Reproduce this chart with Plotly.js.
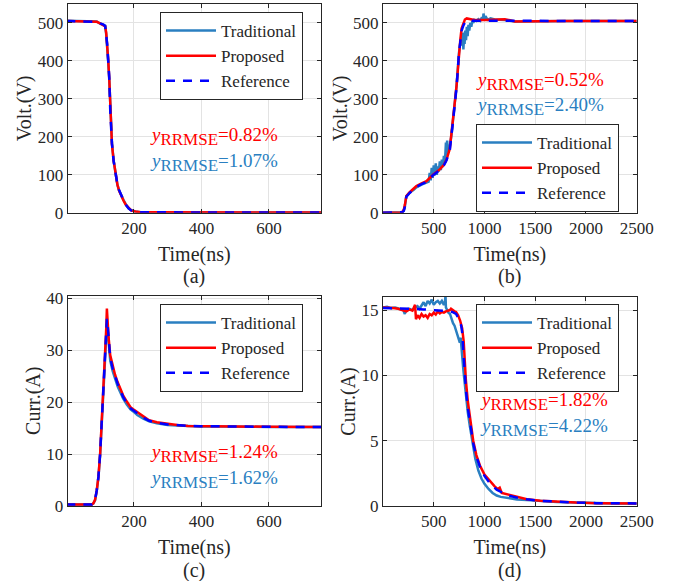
<!DOCTYPE html>
<html>
<head>
<meta charset="utf-8">
<script src="https://cdn.plot.ly/plotly-3.0.1.min.js"></script>
<style>html,body{margin:0;padding:0;background:#fff;}#chart{width:678px;height:581px;}</style>
</head>
<body>
<div id="chart"></div>
<script>
// ---------- Panel (a): voltage, 0-754 ns ----------
var aTime = [0, 40, 80, 90, 100, 110, 115, 118, 121, 124, 127, 130, 133, 135, 140, 146, 151, 156, 162, 169, 176, 184, 192, 204, 220, 260, 350, 450, 550, 650, 754];
var aRef  = [505, 505, 505, 503, 499, 496, 492, 472, 444, 400, 357, 269, 210, 182, 136, 96, 76, 60, 45, 33, 21, 11.5, 6, 2.6, 1.2, 0.8, 0.6, 0.5, 0.5, 0.5, 0.5];
var aProp = [505, 505, 505, 503, 499, 495, 491, 474, 446, 402, 355, 271, 208, 180, 137, 97, 75, 58, 44, 32, 21, 12, 6, 3, 1.5, 1, 0.7, 0.6, 0.5, 0.5, 0.5];
var aTrad = [506, 506, 505, 504, 498, 496, 493, 470, 442, 398, 352, 266, 212, 185, 138, 95, 74, 59, 46, 34, 22, 12, 6.5, 3, 1.4, 0.9, 0.7, 0.6, 0.6, 0.5, 0.5];

// ---------- Panel (b): voltage, 0-2500 ns ----------
var bTime = [0, 100, 170, 190, 205, 215, 230, 263, 300, 329, 380, 428, 493, 559, 600, 626, 658, 675, 691, 708, 725, 748, 762, 774, 790, 807, 825, 850, 900, 1000, 1100, 1200, 1300, 1500, 1800, 2100, 2500];
var bRef  = [0, 0, 0, 1, 5, 15, 42, 52, 60, 68, 75, 81, 99, 112, 125, 138, 164, 200, 243, 287, 330, 418, 452, 479, 492, 501, 506, 506, 505, 506, 506, 506, 505, 505, 505, 505, 505];
var bProp = [0, 0, 0, 2, 8, 20, 44, 54, 62, 70, 77, 83, 100, 114, 126, 140, 168, 205, 248, 292, 335, 420, 456, 485, 500, 509, 512, 510, 508, 508, 509, 510, 504, 505, 505, 505, 505];
var bTradTime = [0, 100, 170, 190, 205, 215, 230, 263, 300, 329, 380, 428, 450, 460, 470, 480, 490, 500, 510, 520, 530, 540, 550, 560, 570, 580, 590, 600, 610, 620, 626, 632, 640, 650, 658, 675, 691, 708, 725, 748, 762, 774, 780, 786, 792, 798, 804, 810, 818, 826, 834, 842, 850, 860, 870, 880, 890, 900, 920, 940, 960, 975, 985, 990, 1000, 1010, 1030, 1060, 1100, 1200, 1300, 1500, 1800, 2100, 2500];
var bTrad = [0, 0, 0, 1, 6, 16, 43, 53, 60, 67, 74, 80, 82, 105, 85, 118, 92, 125, 98, 130, 100, 122, 108, 135, 112, 140, 120, 150, 130, 185, 150, 190, 160, 170, 175, 205, 245, 290, 335, 420, 455, 470, 440, 475, 430, 460, 445, 480, 455, 490, 465, 495, 480, 500, 490, 505, 500, 508, 505, 510, 506, 515, 508, 525, 510, 518, 508, 512, 509, 508, 504, 505, 505, 505, 505];

// ---------- Panel (c): current, 0-754 ns ----------
var cTime = [0, 40, 75, 80, 85, 90, 95, 100, 105, 110, 115, 118, 120, 122, 125, 130, 137, 144, 152, 159, 168, 179, 190, 198, 210, 228, 245, 268, 300, 328, 360, 397, 450, 500, 600, 700, 754];
var cRef  = [0.3, 0.3, 0.3, 0.5, 1.2, 3, 5.6, 10, 15.9, 22, 29, 33, 36, 35, 32, 28.5, 26.5, 24.9, 23.5, 22.4, 21, 19.8, 18.8, 18.4, 17.8, 17.0, 16.4, 16.0, 15.7, 15.5, 15.4, 15.35, 15.3, 15.3, 15.25, 15.2, 15.2];
var cProp = [0.3, 0.3, 0.3, 0.5, 1.2, 3, 5.6, 10, 16.2, 22.5, 29.5, 34, 38, 35.5, 32.5, 29, 27, 25.3, 23.8, 22.7, 21.3, 20.1, 19, 18.6, 18.1, 17.2, 16.5, 16.1, 15.8, 15.6, 15.4, 15.4, 15.3, 15.3, 15.25, 15.2, 15.2];
var cTrad = [0.3, 0.3, 0.3, 0.5, 1.1, 2.9, 5.5, 9.8, 15.6, 21.6, 28.5, 32.5, 35, 34, 31.5, 28, 26, 24.5, 23, 22, 20.7, 19.5, 18.6, 18.2, 17.5, 16.8, 16.3, 15.9, 15.6, 15.5, 15.4, 15.3, 15.3, 15.25, 15.2, 15.2, 15.2];

// ---------- Panel (d): current, 0-2500 ns ----------
var dTime = [0, 100, 200, 300, 400, 500, 589, 640, 688, 720, 738, 755, 771, 780, 787, 796, 804, 817, 836, 856, 872, 889, 920, 955, 1000, 1054, 1120, 1220, 1320, 1418, 1550, 1715, 1900, 2100, 2300, 2500];
var dRef  = [15.15, 15.15, 15.1, 15.1, 15.05, 15.0, 14.97, 14.92, 14.84, 14.7, 14.45, 14.15, 13.8, 13.3, 12.3, 11.2, 10, 8.9, 7.5, 6.35, 5.5, 4.8, 3.8, 3.0, 2.3, 1.74, 1.25, 0.84, 0.64, 0.51, 0.4, 0.31, 0.26, 0.22, 0.2, 0.2];
var dPropTime = [0, 50, 100, 150, 200, 230, 260, 290, 316, 325, 340, 360, 380, 400, 420, 440, 460, 480, 500, 520, 540, 560, 580, 600, 620, 640, 660, 670, 690, 705, 720, 740, 760, 780, 795, 805, 817, 836, 856, 872, 889, 920, 955, 1000, 1054, 1100, 1130, 1150, 1170, 1220, 1320, 1418, 1550, 1715, 1900, 2100, 2300, 2500];
var dProp = [15.2, 15.2, 15.15, 15.1, 15.0, 14.9, 15.05, 14.95, 15.4, 14.3, 14.6, 14.4, 14.7, 14.5, 14.6, 14.4, 14.7, 14.6, 14.8, 14.65, 14.9, 14.75, 14.85, 14.8, 14.9, 14.95, 15.0, 15.1, 14.95, 14.9, 14.85, 14.6, 14.2, 13.6, 12.6, 11.2, 9.6, 8.0, 6.7, 5.8, 5.0, 3.9, 3.1, 2.4, 1.9, 1.5, 1.3, 1.4, 1.0, 0.9, 0.66, 0.52, 0.41, 0.32, 0.26, 0.22, 0.2, 0.2];
var dTradTime = [0, 40, 80, 120, 160, 200, 215, 230, 260, 290, 320, 340, 360, 380, 400, 420, 440, 460, 480, 500, 520, 540, 560, 580, 600, 610, 616, 620, 630, 645, 660, 675, 690, 705, 720, 735, 750, 757, 765, 772, 780, 790, 800, 815, 835, 856, 872, 889, 910, 940, 970, 1000, 1040, 1080, 1120, 1160, 1220, 1320, 1418, 1550, 1715, 1900, 2100, 2300, 2500];
var dTrad = [15.2, 15.25, 15.15, 15.2, 15.1, 15.0, 14.7, 15.05, 15.1, 15.0, 15.2, 15.3, 15.1, 15.4, 15.6, 15.3, 15.7, 15.5, 15.8, 15.4, 15.6, 15.7, 15.5, 15.7, 15.4, 15.6, 16.1, 15.2, 15.0, 14.8, 14.7, 14.3, 14.0, 13.8, 13.4, 13.1, 12.8, 12.5, 12.9, 12.0, 11.5, 10.6, 9.8, 8.6, 7.2, 6.1, 5.3, 4.5, 3.6, 2.7, 2.1, 1.7, 1.3, 1.0, 0.8, 0.7, 0.62, 0.5, 0.45, 0.38, 0.31, 0.26, 0.22, 0.2, 0.2];

// ---------- Labels ----------
var seriesNames = ['Traditional', 'Proposed', 'Reference'];
var panelLetters = ['(a)', '(b)', '(c)', '(d)'];
var yTitles = ['Volt.(V)', 'Volt.(V)', 'Curr.(A)', 'Curr.(A)'];
var xTitle = 'Time(ns)';
var rrmseProp = ['0.82%', '0.52%', '1.24%', '1.82%'];
var rrmseTrad = ['1.07%', '2.40%', '1.62%', '4.22%'];
var xTicksShort = [200, 400, 600];
var xTicksLong = [500, 1000, 1500, 2000, 2500];
var yTicksVolt = [0, 100, 200, 300, 400, 500];
var yTicksA = [0, 10, 20, 30, 40];
var yTicksD = [0, 5, 10, 15];

// ---------- Style ----------
var W = 678, H = 581;
var cTradCol = '#2a7fc1', cPropCol = '#ff0000', cRefCol = '#0000ff';
var FONT = 'Liberation Serif';
var AXC = '#262626';
function px(x) { return x / W; }
function py(y) { return 1 - y / H; }

// panel pixel boxes [left, right, top, bottom]
var boxes = [
  [67.7, 321, 4, 212.7],
  [383, 636.7, 4, 212.7],
  [67.7, 321, 295.5, 506],
  [383, 636.7, 297, 506]
];

var panels = [
  {tt: aTime, tr: aTrad, pt: aTime, pr: aProp, rt: aTime, rr: aRef},
  {tt: bTradTime, tr: bTrad, pt: bTime, pr: bProp, rt: bTime, rr: bRef},
  {tt: cTime, tr: cTrad, pt: cTime, pr: cProp, rt: cTime, rr: cRef},
  {tt: dTradTime, tr: dTrad, pt: dPropTime, pr: dProp, rt: dTime, rr: dRef}
];

var data = [];
panels.forEach(function (p, i) {
  var sfx = i === 0 ? '' : String(i + 1);
  var lg = i === 0 ? 'legend' : 'legend' + (i + 1);
  data.push({x: p.tt, y: p.tr, type: 'scatter', mode: 'lines', name: seriesNames[0],
    xaxis: 'x' + sfx, yaxis: 'y' + sfx, legend: lg,
    line: {color: cTradCol, width: 2.5}});
  data.push({x: p.pt, y: p.pr, type: 'scatter', mode: 'lines', name: seriesNames[1],
    xaxis: 'x' + sfx, yaxis: 'y' + sfx, legend: lg,
    line: {color: cPropCol, width: 2.5}});
  data.push({x: p.rt, y: p.rr, type: 'scatter', mode: 'lines', name: seriesNames[2],
    xaxis: 'x' + sfx, yaxis: 'y' + sfx, legend: lg,
    line: {color: cRefCol, width: 2.5, dash: '9px,8px'}});
});

var xRanges = [[4, 754], [0, 2500], [4, 754], [0, 2500]];
var yRanges = [[0, 550], [0, 550], [0, 40.5], [0, 16]];
var xTickSets = [xTicksShort, xTicksLong, xTicksShort, xTicksLong];
var yTickSets = [yTicksVolt, yTicksVolt, yTicksA, yTicksD];

var layout = {
  width: W, height: H,
  margin: {l: 0, r: 0, t: 0, b: 0},
  paper_bgcolor: '#ffffff', plot_bgcolor: '#ffffff',
  font: {family: FONT, color: AXC, size: 17},
  showlegend: true,
  annotations: []
};

function axisCommon() {
  return {
    showline: true, linecolor: AXC, linewidth: 1, mirror: 'ticks',
    ticks: 'inside', ticklen: 4, tickcolor: AXC, tickwidth: 1,
    showgrid: true, gridcolor: '#e3e3e3', gridwidth: 1, zeroline: false,
    tickfont: {family: FONT, size: 17, color: AXC}
  };
}

boxes.forEach(function (b, i) {
  var sfx = i === 0 ? '' : String(i + 1);
  var xa = axisCommon();
  xa.domain = [px(b[0]), px(b[1])];
  xa.anchor = 'y' + sfx;
  xa.range = xRanges[i];
  xa.tickvals = xTickSets[i];
  xa.title = {text: xTitle, font: {family: FONT, size: 20, color: AXC}, standoff: 9};
  var ya = axisCommon();
  ya.domain = [py(b[3]), py(b[2])];
  ya.anchor = 'x' + sfx;
  ya.range = yRanges[i];
  ya.tickvals = yTickSets[i];
  ya.title = {text: yTitles[i], font: {family: FONT, size: 20, color: AXC}, standoff: 0};
  layout['xaxis' + sfx] = xa;
  layout['yaxis' + sfx] = ya;

  // panel letter
  layout.annotations.push({
    text: panelLetters[i], xref: 'paper', yref: 'paper',
    x: px((b[0] + b[1]) / 2), y: py(b[3] + 64), xanchor: 'center', yanchor: 'middle',
    showarrow: false, font: {family: FONT, size: 20, color: AXC}
  });
});

// RRMSE annotations: [x-left px, y-center px of red line]
var rrPos = [[148, 136], [474, 81], [148, 453], [478, 401]];
rrPos.forEach(function (p, i) {
  layout.annotations.push({
    text: '<i>y</i><sub><span style="font-size:17px">RRMSE</span></sub>=' + rrmseProp[i], xref: 'paper', yref: 'paper',
    x: px(p[0]), y: py(p[1]), xanchor: 'left', yanchor: 'middle', showarrow: false,
    font: {family: FONT, size: 19, color: cPropCol}
  });
  layout.annotations.push({
    text: '<i>y</i><sub><span style="font-size:17px">RRMSE</span></sub>=' + rrmseTrad[i], xref: 'paper', yref: 'paper',
    x: px(p[0]), y: py(p[1] + 26), xanchor: 'left', yanchor: 'middle', showarrow: false,
    font: {family: FONT, size: 19, color: cTradCol}
  });
});

// legends: [left px, top px, entry width px]
var lgPos = [[160, 12, 94], [476, 124, 96], [160, 304, 94], [476, 304, 86]];
lgPos.forEach(function (p, i) {
  var key = i === 0 ? 'legend' : 'legend' + (i + 1);
  layout[key] = {
    x: px(p[0]), y: py(p[1]), xanchor: 'left', yanchor: 'top',
    bgcolor: '#ffffff', bordercolor: AXC, borderwidth: 1,
    font: {family: FONT, size: 17, color: AXC},
    itemwidth: 50, tracegroupgap: 0,
    entrywidth: p[2], entrywidthmode: 'pixels'
  };
});

Plotly.newPlot('chart', data, layout, {displayModeBar: false, staticPlot: true});
</script>
</body>
</html>
